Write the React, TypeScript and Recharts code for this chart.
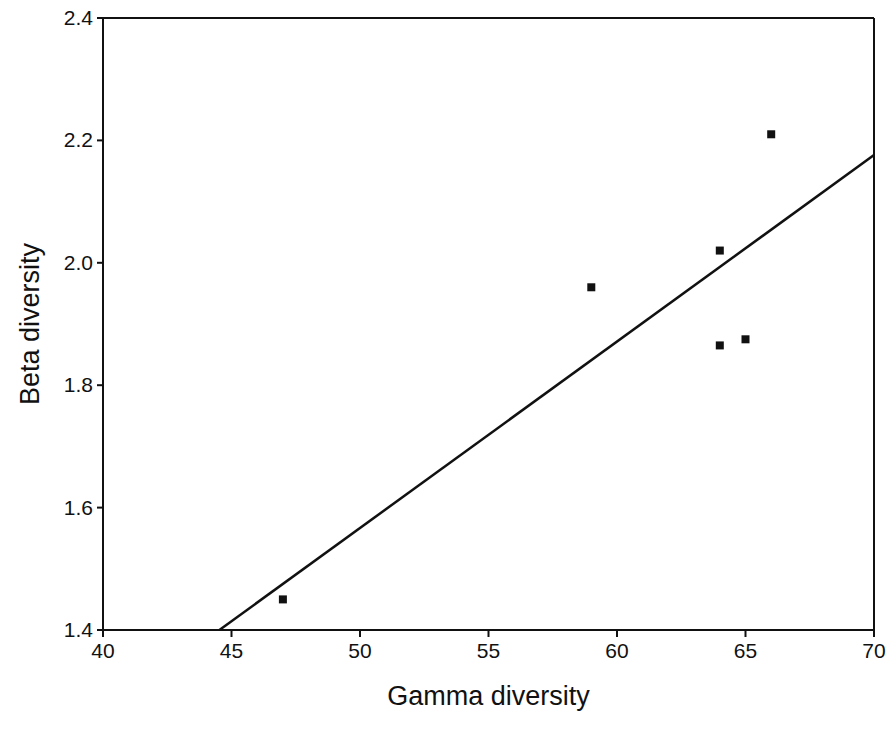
import {
  ScatterChart,
  Scatter,
  XAxis,
  YAxis,
  ReferenceLine,
  Label,
} from "recharts";

// gamma vs beta diversity per site
const gamma = [47, 59, 64, 64, 65, 66];
const beta = [1.45, 1.96, 2.02, 1.865, 1.875, 2.21];

// fitted regression line, end points
const fitX = [44.53, 70];
const fitY = [1.4, 2.176];

const xTicks = [40, 45, 50, 55, 60, 65, 70];
const yTicks = [1.4, 1.6, 1.8, 2.0, 2.2, 2.4];

const points = gamma.map((g, i) => ({ x: g, y: beta[i] }));
const fit = fitX.map((g, i) => ({ x: g, y: fitY[i] }));

const FONT = "'Liberation Sans', Arial, Helvetica, sans-serif";
const INK = "#111";

const SquareDot = (props: any) => {
  const { cx, cy } = props;
  return <rect x={cx - 4} y={cy - 4} width={8} height={8} fill={INK} />;
};

const XTick = (props: any) => {
  const { x, y, payload } = props;
  return (
    <text
      x={x}
      y={y + 17}
      textAnchor="middle"
      style={{ fontSize: 21, fill: INK, fontFamily: FONT }}
    >
      {payload.value}
    </text>
  );
};

const YTick = (props: any) => {
  const { x, y, payload } = props;
  return (
    <text
      x={x}
      y={y + 7}
      textAnchor="end"
      style={{ fontSize: 21, fill: INK, fontFamily: FONT }}
    >
      {Number(payload.value).toFixed(1)}
    </text>
  );
};

export default function App() {
  return (
    <div style={{ position: "absolute", left: 0, top: 0, background: "#fff" }}>
      <ScatterChart
        width={888}
        height={739}
        margin={{ top: 18, right: 14, bottom: 0, left: 0 }}
      >
        <XAxis
          type="number"
          dataKey="x"
          domain={[40, 70]}
          ticks={xTicks}
          height={109}
          tickSize={7}
          tickMargin={4}
          stroke={INK}
          strokeWidth={2}
          tick={XTick}
        >
          <Label
            value="Gamma diversity"
            position="insideBottom"
            offset={34}
            style={{ fontSize: 27, fill: INK, fontFamily: FONT }}
          />
        </XAxis>
        <YAxis
          type="number"
          dataKey="y"
          domain={[1.4, 2.4]}
          ticks={yTicks}
          width={103}
          tickSize={6}
          tickMargin={4}
          stroke={INK}
          strokeWidth={2}
          tick={YTick}
        >
          <Label
            content={(p: any) => {
              const vb = p.viewBox || {};
              const cx = 30;
              const cy = (vb.y ?? 18) + (vb.height ?? 612) / 2;
              return (
                <text
                  x={cx}
                  y={cy}
                  transform={`rotate(-90, ${cx}, ${cy})`}
                  textAnchor="middle"
                  dominantBaseline="central"
                  style={{ fontSize: 27, fill: INK, fontFamily: FONT }}
                >
                  Beta diversity
                </text>
              );
            }}
          />
        </YAxis>
        {/* box top and right */}
        <ReferenceLine y={2.4} stroke={INK} strokeWidth={2} />
        <ReferenceLine x={70} stroke={INK} strokeWidth={2} />
        <Scatter
          data={fit}
          line={{ stroke: INK, strokeWidth: 2.5 }}
          shape={() => <g />}
          isAnimationActive={false}
        />
        <Scatter data={points} shape={SquareDot} isAnimationActive={false} />
      </ScatterChart>
    </div>
  );
}
